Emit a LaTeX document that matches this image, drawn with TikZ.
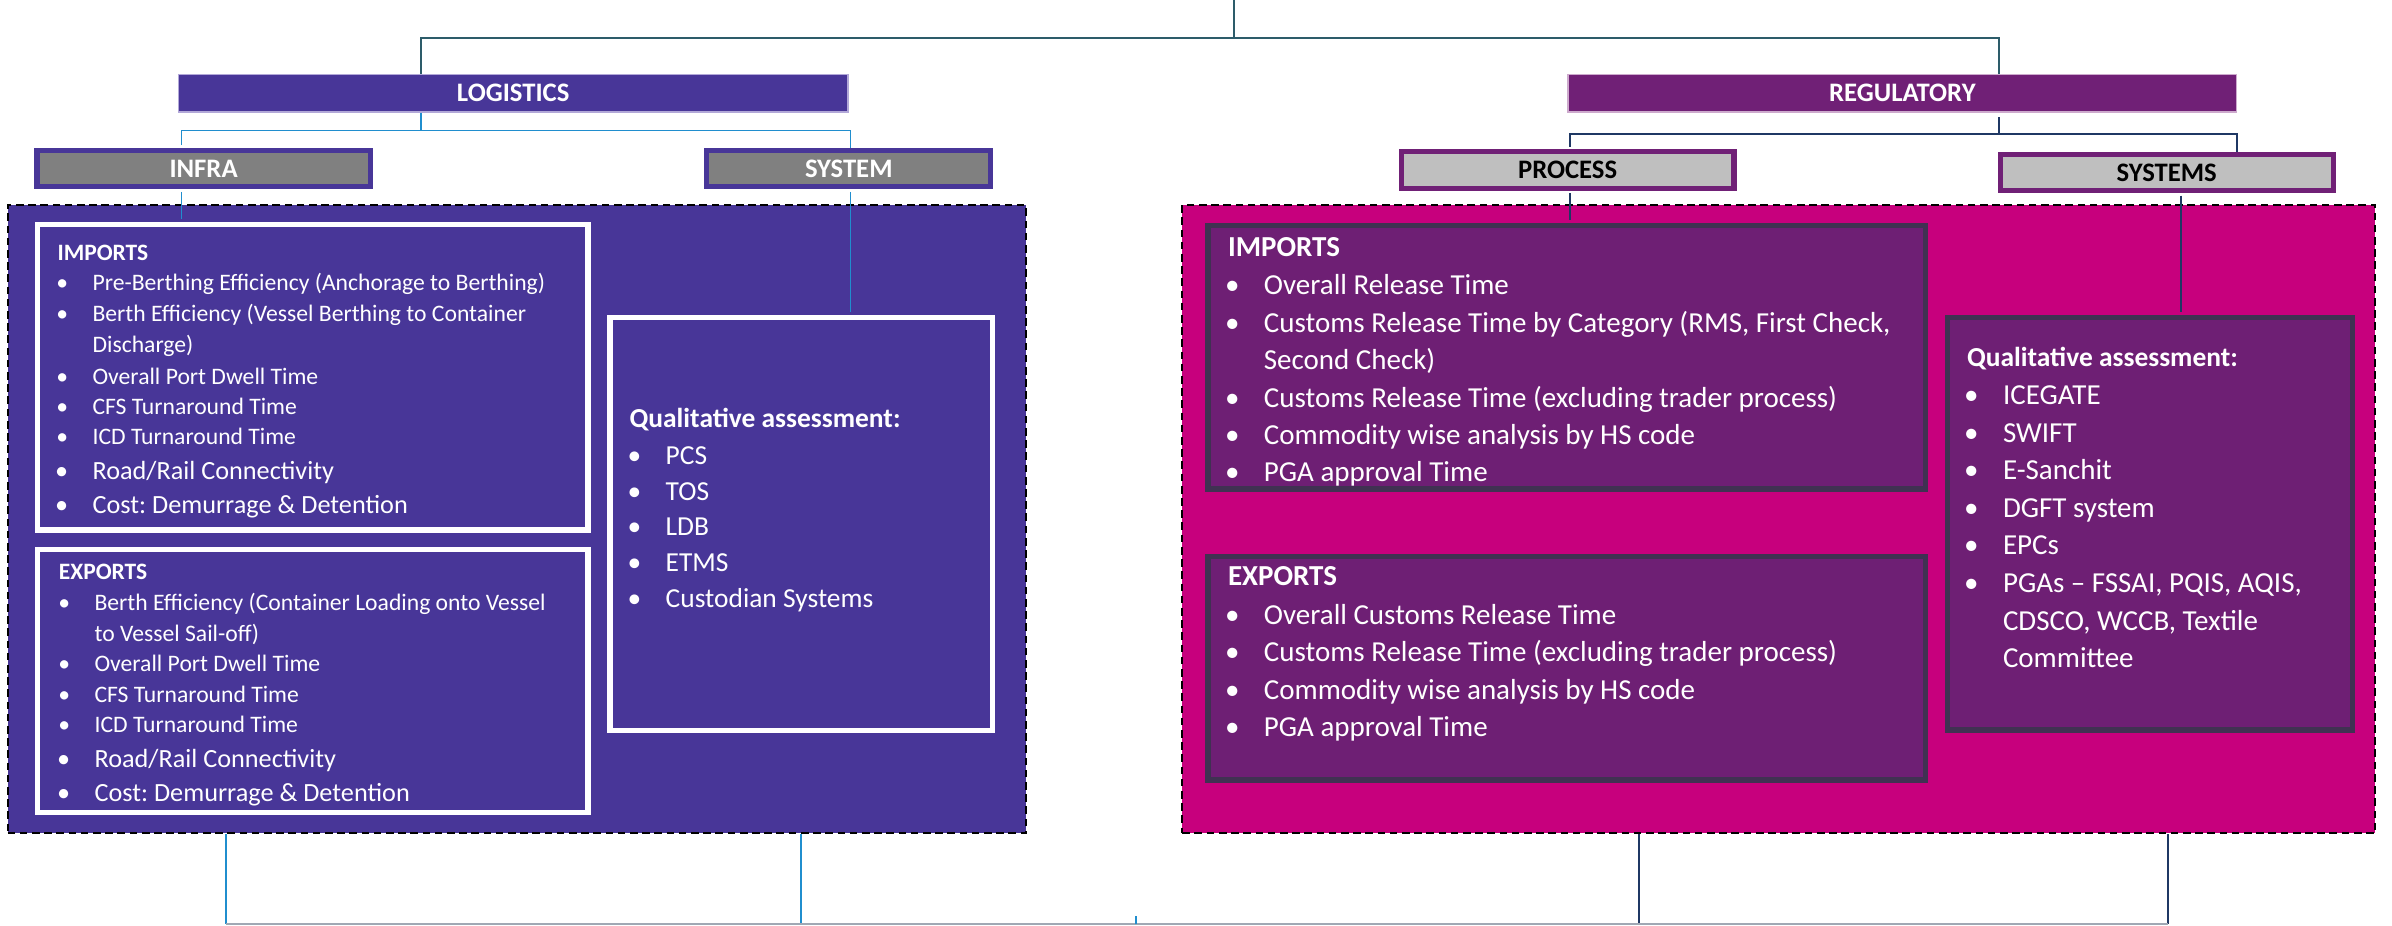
\documentclass[tikz,border=0pt]{standalone}
\usepackage{fontspec}
\setmainfont{Carlito}
\frenchspacing

\definecolor{logi}{RGB}{72,54,152}
\definecolor{logiedge}{RGB}{178,168,216}
\definecolor{regu}{RGB}{112,32,118}
\definecolor{reguedge}{RGB}{205,170,205}
\definecolor{regbox}{RGB}{110,31,116}
\definecolor{regboxedge}{RGB}{64,49,82}
\definecolor{regpanel}{RGB}{199,0,125}
\definecolor{infragray}{RGB}{128,128,128}
\definecolor{procgray}{RGB}{191,191,191}
\definecolor{topteal}{RGB}{45,92,106}
\definecolor{logiblue}{RGB}{32,142,206}
\definecolor{regunavy}{RGB}{31,56,100}
\definecolor{basegray}{RGB}{160,168,180}

\newcommand{\bul}{\llap{\textbullet\hspace{16pt}}}

\tikzset{
  bar/.style={rectangle, inner sep=0pt, minimum height=24.6pt, line width=0.8pt, text=white, font=\fontsize{17.5}{20}\selectfont\bfseries},
  subbar/.style={rectangle, inner sep=0pt, line width=3.3pt, font=\fontsize{17.5}{20}\selectfont\bfseries},
  panel/.style={rectangle, draw=black, line width=1.2pt, dash pattern=on 5pt off 3pt},
  listbox/.style={rectangle, line width=3.5pt},
  ltitle/.style={anchor=base west, inner sep=0pt, text=white, font=\fontsize{15.4}{18}\selectfont\bfseries},
  litem/.style={anchor=base west, inner sep=0pt, text=white, font=\fontsize{15.5}{18}\selectfont},
  litembig/.style={litem, font=\fontsize{17.2}{20}\selectfont},
  qtitle/.style={ltitle, font=\fontsize{18}{21}\selectfont\bfseries},
  qitem/.style={litem, font=\fontsize{18}{21}\selectfont},
  rtitle/.style={ltitle, font=\fontsize{19}{22}\selectfont\bfseries},
  ritem/.style={litem, font=\fontsize{19}{22}\selectfont},
  link/.style={line width=1.2pt}
}

\begin{document}
\begin{tikzpicture}[x=1pt, y=-1pt]
\useasboundingbox (0,0) rectangle (1568,607);

% top level bars
\node [bar, fill=logi, draw=logiedge, minimum width=439pt] (logistics) at (336.4,61.1) {LOGISTICS};
\node [bar, fill=regu, draw=reguedge, minimum width=438.3pt] (regulatory) at (1247.05,61.1) {REGULATORY};

\node [subbar, fill=infragray, draw=logi, text=white, minimum width=218.4pt, minimum height=24pt] (infra) at (133.45,110.45) {INFRA};
\node [subbar, fill=infragray, draw=logi, text=white, minimum width=186.3pt, minimum height=24pt] (system) at (556.4,110.45) {SYSTEM};
\node [subbar, fill=procgray, draw=regu, text=black, minimum width=218.1pt, minimum height=24pt] (process) at (1027.6,111.35) {PROCESS};
\node [subbar, fill=procgray, draw=regu, text=black, minimum width=218.1pt, minimum height=23.5pt] (systems) at (1420.3,113.3) {SYSTEMS};

% panels
\node [panel, fill=logi, minimum width=667.3pt, minimum height=411.9pt] (lpanel) at (338.65,340.35) {};
\node [panel, fill=regpanel, minimum width=782pt, minimum height=411.9pt] (rpanel) at (1166,340.35) {};

\node [listbox, fill=logi, draw=white, minimum width=360.7pt, minimum height=200.4pt] (limpbox) at (205.1,247.25) {};
\node [listbox, fill=logi, draw=white, minimum width=360.7pt, minimum height=172.4pt] (lexpbox) at (205.1,446.35) {};
\node [listbox, fill=logi, draw=white, minimum width=250.6pt, minimum height=270.7pt] (lqbox) at (525.25,343.6) {};
\node [listbox, fill=regbox, draw=regboxedge, minimum width=470.5pt, minimum height=172.8pt] (rimpbox) at (1027,234.15) {};
\node [listbox, fill=regbox, draw=regboxedge, minimum width=470.5pt, minimum height=146.3pt] (rexpbox) at (1027,438.1) {};
\node [listbox, fill=regbox, draw=regboxedge, minimum width=265.2pt, minimum height=270.3pt] (rqbox) at (1409.35,343.4) {};

% logistics texts
\node [ltitle] (limpT) at (37.5,170.6) {IMPORTS};
\node [litem] (limp1) at (60.5,190.7) {\bul Pre-Berthing Efficiency (Anchorage to Berthing)};
\node [litem] (limp2) at (60.5,211) {\bul Berth Efficiency (Vessel Berthing to Container};
\node [litem] (limp3) at (60.5,231.1) {Discharge)};
\node [litem] (limp4) at (60.5,251.9) {\bul Overall Port Dwell Time};
\node [litem] (limp5) at (60.5,271.6) {\bul CFS Turnaround Time};
\node [litem] (limp6) at (60.5,291.7) {\bul ICD Turnaround Time};
\node [litembig] (limp7) at (60.5,314) {\bul Road/Rail Connectivity};
\node [litembig] (limp8) at (60.5,336.5) {\bul Cost: Demurrage \& Detention};

\node [ltitle] (lexpT) at (38.4,379.8) {EXPORTS};
\node [litem] (lexp1) at (61.8,400.5) {\bul Berth Efficiency (Container Loading onto Vessel};
\node [litem] (lexp2) at (61.8,420.2) {to Vessel Sail-off)};
\node [litem] (lexp3) at (61.8,440.5) {\bul Overall Port Dwell Time};
\node [litem] (lexp4) at (61.8,460.6) {\bul CFS Turnaround Time};
\node [litem] (lexp5) at (61.8,480.3) {\bul ICD Turnaround Time};
\node [litembig] (lexp6) at (61.8,503.1) {\bul Road/Rail Connectivity};
\node [litembig] (lexp7) at (61.8,525.6) {\bul Cost: Demurrage \& Detention};

\node [qtitle] (lqT) at (412.5,280.4) {Qualitative assessment:};
\node [qitem] (lq1) at (436.2,304.3) {\bul PCS};
\node [qitem] (lq2) at (436.2,327.8) {\bul TOS};
\node [qitem] (lq3) at (436.2,351.3) {\bul LDB};
\node [qitem] (lq4) at (436.2,374.8) {\bul ETMS};
\node [qitem] (lq5) at (436.2,398.3) {\bul Custodian Systems};

% regulatory texts
\node [rtitle] (rimpT) at (804.8,168.1) {IMPORTS};
\node [ritem] (rimp1) at (828.3,193.1) {\bul Overall Release Time};
\node [ritem] (rimp2) at (828.3,217.7) {\bul Customs Release Time by Category (RMS, First Check,};
\node [ritem] (rimp3) at (828.3,242.2) {Second Check)};
\node [ritem] (rimp4) at (828.3,266.8) {\bul Customs Release Time (excluding trader process)};
\node [ritem] (rimp5) at (828.3,291.3) {\bul Commodity wise analysis by HS code};
\node [ritem] (rimp6) at (828.3,315.9) {\bul PGA approval Time};

\node [rtitle] (rexpT) at (804.8,384.1) {EXPORTS};
\node [ritem] (rexp1) at (828.3,409.3) {\bul Overall Customs Release Time};
\node [ritem] (rexp2) at (828.3,433.8) {\bul Customs Release Time (excluding trader process)};
\node [ritem] (rexp3) at (828.3,458.3) {\bul Commodity wise analysis by HS code};
\node [ritem] (rexp4) at (828.3,482.8) {\bul PGA approval Time};

\node [qtitle] (rqT) at (1289.2,240.1) {Qualitative assessment:};
\node [ritem] (rq1) at (1312.8,265.1) {\bul ICEGATE};
\node [ritem] (rq2) at (1312.8,289.75) {\bul SWIFT};
\node [ritem] (rq3) at (1312.8,314.4) {\bul E-Sanchit};
\node [ritem] (rq4) at (1312.8,339.05) {\bul DGFT system};
\node [ritem] (rq5) at (1312.8,363.7) {\bul EPCs};
\node [ritem] (rq6) at (1312.8,388.35) {\bul PGAs – FSSAI, PQIS, AQIS,};
\node [ritem] (rq7) at (1312.8,413) {CDSCO, WCCB, Textile};
\node [ritem] (rq8) at (1312.8,437.65) {Committee};

% connectors
\coordinate (topstart) at (809,0);
\coordinate (tl) at (276,25.1);
\coordinate (tr) at (1310.6,25.1);
\coordinate (lsplit) at (276,85.6);
\coordinate (linfra) at (119,85.6);
\coordinate (lsys) at (557.5,85.6);
\coordinate (rsplit) at (1310.6,87.8);
\coordinate (rproc) at (1029.4,87.8);
\coordinate (rsys) at (1466.2,87.8);
\coordinate (rqual) at (1429.7,0);
\coordinate (bA) at (148.4,605.8);
\coordinate (bB) at (525.3,605.8);
\coordinate (bmid) at (744.5,605.8);
\coordinate (bC) at (1074.6,605.8);
\coordinate (bD) at (1421,605.8);

\draw [link, topteal] (topstart) -- (topstart |- tl);
\draw [link, topteal] (logistics.north -| tl) -- (tl) -- (tr) -- (regulatory.north -| tr);

\draw [link, logiblue] (logistics.south -| lsplit) -- (lsplit);
\draw [link, logiblue, shorten <=1.6pt] (infra.north -| linfra) -- (linfra) -- (lsys) -- (system.north -| lsys);
\draw [link, logiblue, shorten <=1.6pt, shorten >=1.7pt] (infra.south -| linfra) -- (limpbox.north -| linfra);
\draw [link, logiblue, shorten <=1.6pt, shorten >=1.7pt] (system.south -| lsys) -- (lqbox.north -| lsys);

\draw [link, regunavy, shorten <=3pt] (regulatory.south -| rsplit) -- (rsplit);
\draw [link, regunavy, shorten <=1.6pt] (process.north -| rproc) -- (rproc) -- (rsys) -- (systems.north -| rsys);
\draw [link, regunavy, shorten <=1.6pt, shorten >=1.7pt] (process.south -| rproc) -- (rimpbox.north -| rproc);
\draw [link, regunavy, shorten <=1.6pt, shorten >=1.7pt] (systems.south -| rqual) -- (rqbox.north -| rqual);

\draw [link, logiblue] (lpanel.south -| bA) -- (bA);
\draw [link, logiblue] (lpanel.south -| bB) -- (bB);
\draw [link, regunavy] (rpanel.south -| bC) -- (bC);
\draw [link, regunavy] (rpanel.south -| bD) -- (bD);
\draw [link, basegray] (bA) -- (bD);
\draw [link, logiblue] (bmid) -- ++(0,-5.5);

\end{tikzpicture}
\end{document}
